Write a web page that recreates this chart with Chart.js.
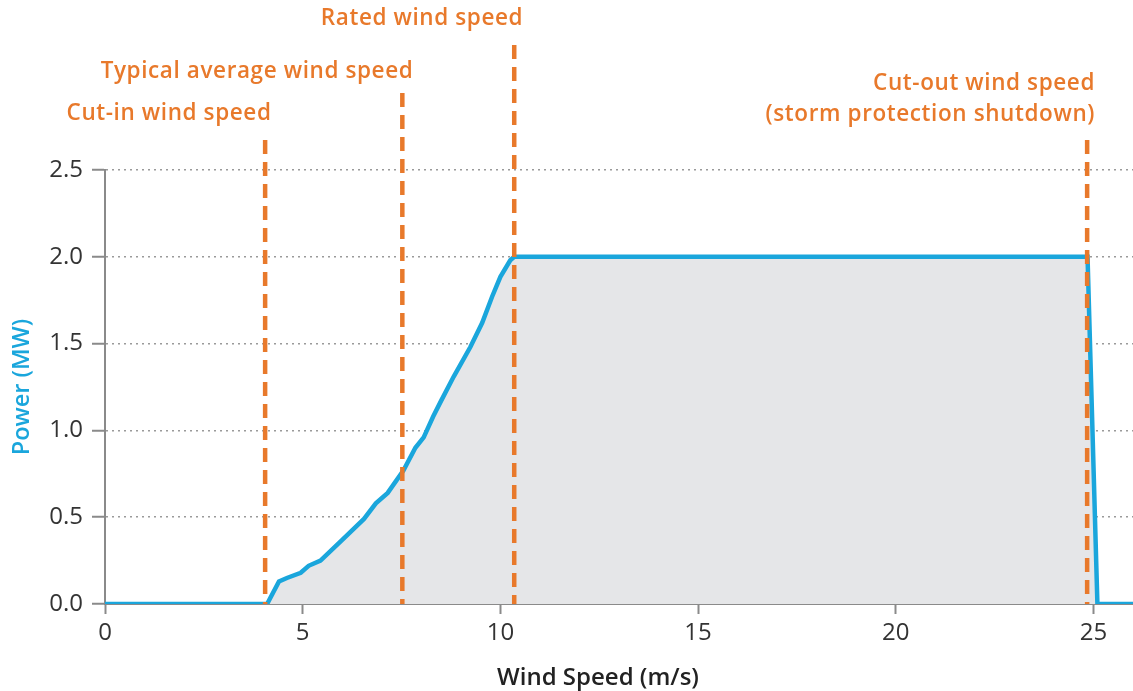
<!DOCTYPE html>
<html>
<head>
<meta charset="utf-8">
<script src="https://cdn.jsdelivr.net/npm/chart.js@4"></script>
<style>
  html, body { margin: 0; padding: 0; background: #fff; }
  #wrap { width: 1133px; height: 691px; }
</style>
</head>
<body>
<div id="wrap"><canvas id="powerCurve"></canvas></div>
<script>
// wind speed (m/s) vs turbine output (MW)
const windSpeed = [0, 4.1, 4.4, 4.6, 4.95, 5.15, 5.45, 6.0, 6.55, 6.85, 7.15, 7.55, 7.85, 8.06, 8.3, 8.5, 8.82, 9.24, 9.54, 9.79, 10.0, 10.25, 10.35, 24.85, 25.1, 26];
const power = [0, 0, 0.13, 0.15, 0.18, 0.22, 0.25, 0.37, 0.49, 0.58, 0.64, 0.77, 0.9, 0.96, 1.08, 1.17, 1.31, 1.48, 1.62, 1.77, 1.885, 1.98, 2.0, 2.0, 0, 0];

// the four marked speeds
const markerSpeeds = [4.05, 7.52, 10.35, 24.84];
const markerLabels = [
  ['Cut-in wind speed'],
  ['Typical average wind speed'],
  ['Rated wind speed'],
  ['Cut-out wind speed', '(storm protection shutdown)']
];
const xTitle = 'Wind Speed (m/s)';

const orange = '#E8792B';
const blue = '#1AA6DC';

// where the label text sits above each dashed line (px)
const markerStyle = [
  { top: 140, textX: 169, textY: [114], align: 'center' },
  { top: 93, textX: 257, textY: [72], align: 'center' },
  { top: 45, textX: 422, textY: [19], align: 'center' },
  { top: 140, textX: 1095, textY: [84, 115], align: 'right' }
];

const markerPlugin = {
  id: 'markers',
  afterDatasetsDraw(chart) {
    const ctx = chart.ctx;
    const xs = chart.scales.x;
    const ys = chart.scales.y;
    const bottom = ys.getPixelForValue(0);
    ctx.save();
    markerSpeeds.forEach((v, i) => {
      const st = markerStyle[i];
      const px = xs.getPixelForValue(v);
      ctx.beginPath();
      ctx.setLineDash([14, 8]);
      ctx.lineWidth = 4.5;
      ctx.strokeStyle = orange;
      ctx.moveTo(px, st.top);
      ctx.lineTo(px, bottom);
      ctx.stroke();

      ctx.setLineDash([]);
      ctx.fillStyle = orange;
      ctx.font = '600 22.5px "Open Sans"';
      ctx.letterSpacing = '0.6px';
      ctx.textAlign = st.align;
      ctx.textBaseline = 'middle';
      markerLabels[i].forEach((t, j) => ctx.fillText(t, st.textX, st.textY[j]));
    });
    ctx.restore();

    // x axis title sits a bit left of the plot centre in the original
    ctx.save();
    ctx.fillStyle = '#222';
    ctx.font = '600 24px "Open Sans"';
    ctx.textAlign = 'center';
    ctx.textBaseline = 'middle';
    ctx.fillText(xTitle, 598, 678);
    ctx.restore();
  }
};

const points = windSpeed.map((x, i) => ({ x: x, y: power[i] }));

new Chart(document.getElementById('powerCurve'), {
  type: 'line',
  data: {
    datasets: [{
      label: 'Power',
      data: points,
      borderColor: blue,
      borderWidth: 4.5,
      backgroundColor: '#E5E6E8',
      fill: 'origin',
      pointRadius: 0,
      tension: 0
    }]
  },
  options: {
    responsive: true,
    maintainAspectRatio: false,
    animation: false,
    layout: { padding: { top: 170, right: 0, left: 0, bottom: 0 } },
    plugins: {
      legend: { display: false },
      tooltip: { enabled: false }
    },
    scales: {
      x: {
        type: 'linear',
        min: 0,
        max: 26,
        afterFit(scale) { scale.height = 87; },
        grid: {
          drawOnChartArea: false,
          color: '#8a8a8a',
          tickLength: 10,
          tickWidth: 2
        },
        border: { color: '#8a8a8a', width: 2 },
        ticks: {
          stepSize: 5,
          includeBounds: false,
          color: '#333',
          padding: 5,
          font: { family: 'Open Sans', size: 24 }
        }
      },
      y: {
        min: 0,
        max: 2.5,
        afterFit(scale) { scale.width = 105; },
        grid: {
          color: '#9a9a9a',
          lineWidth: 1.5,
          tickLength: 13,
          tickColor: '#8a8a8a',
          tickWidth: 2
        },
        border: { color: '#8a8a8a', width: 2, dash: [2, 4] },
        ticks: {
          stepSize: 0.5,
          color: '#333',
          padding: 9,
          font: { family: 'Open Sans', size: 24 },
          callback: v => v.toFixed(1)
        },
        title: {
          display: true,
          text: 'Power (MW)',
          color: blue,
          padding: { top: 8, bottom: 0 },
          font: { family: 'Open Sans', size: 23.5, weight: '600' }
        }
      }
    }
  },
  plugins: [markerPlugin]
});
</script>
</body>
</html>
